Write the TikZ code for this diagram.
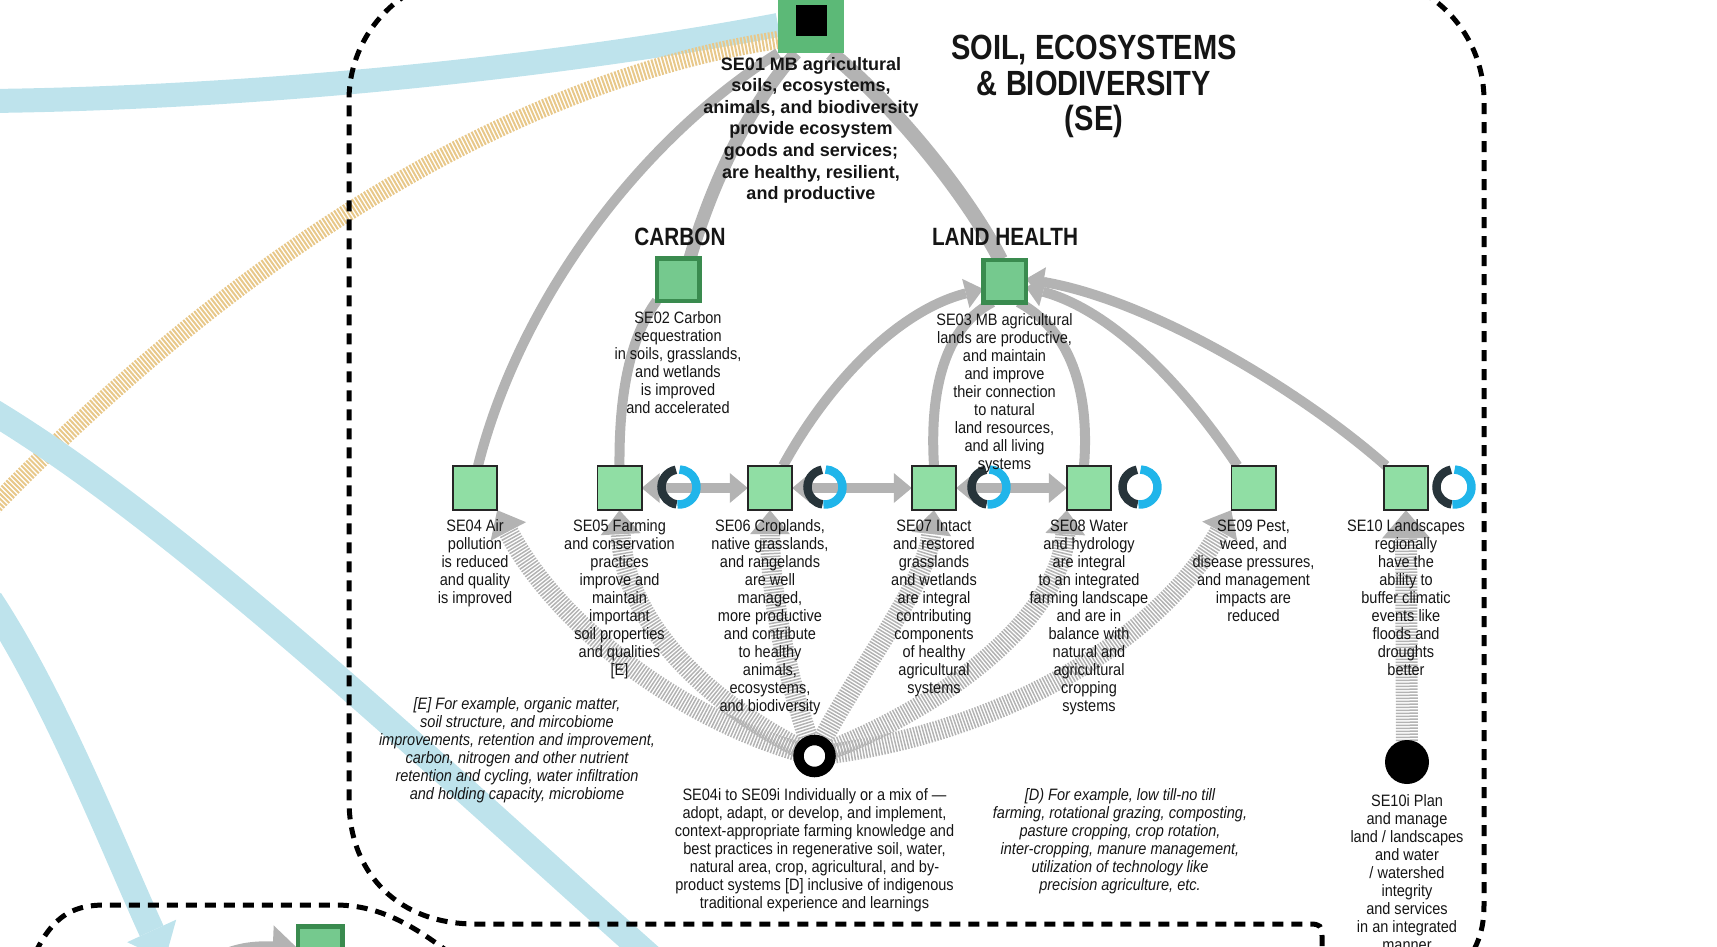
\documentclass[tikz,border=0pt]{standalone}
\usepackage{fontspec}
\setmainfont{Liberation Sans}
\newfontfamily\bodyfont[FakeStretch=0.88]{Liberation Sans}
\newfontfamily\headfont[FakeStretch=0.83]{Liberation Sans}
\usetikzlibrary{arrows.meta}
\pgfdeclarelayer{links}
\pgfsetlayers{links,main}

\definecolor{linkgray}{HTML}{B3B3B3}
\definecolor{skyband}{HTML}{BEE3EC}
\definecolor{ochreband}{HTML}{E8C88A}
\definecolor{rootgreen}{HTML}{5CB977}
\definecolor{midgreen}{HTML}{75C98E}
\definecolor{darkgreen}{HTML}{3A8B4F}
\definecolor{leafgreen}{HTML}{90DEA4}
\definecolor{ringdark}{HTML}{27343A}
\definecolor{ringblue}{HTML}{20B5EA}
\definecolor{ink}{HTML}{151515}

\tikzset{
  every node/.style={inner sep=0pt, outer sep=0pt},
  leafsq/.style={rectangle, draw=black!85, line width=1.6pt, fill=leafgreen, minimum size=44.4pt},
  hubsq/.style={rectangle, draw=darkgreen, line width=4.5pt, fill=midgreen, minimum size=42.5pt},
  rootsq/.style={rectangle, fill=rootgreen, minimum size=66pt},
  link/.style={draw=linkgray, line width=10pt},
  hatched/.style={draw=linkgray, line width=20pt, dash pattern=on 1.5pt off 1.5pt},
  zone/.style={draw=black, line width=5pt, dash pattern=on 11pt off 8pt},
  band/.style={draw=skyband, line width=24pt},
  ochrehatch/.style={draw=ochreband, line width=18pt, dash pattern=on 2pt off 1.5pt},
  linkhead/.tip={Triangle[length=18pt, width=30pt, line width=0pt]},
  hatchhead/.tip={Triangle[length=24pt, width=40pt, line width=0pt]},
  bighead/.tip={Triangle[length=28pt, width=48pt, line width=0pt]},
  skyhead/.tip={Triangle[length=32pt, width=54pt, line width=0pt]},
  txt/.style={font=\bodyfont\fontsize{16.5pt}{18pt}\selectfont, align=center, anchor=north, text=ink},
  note/.style={font=\bodyfont\itshape\fontsize{16.5pt}{18pt}\selectfont, align=center, anchor=north, text=ink},
  roottxt/.style={font=\bfseries\fontsize{18pt}{21.6pt}\selectfont, align=center, anchor=north, text=ink},
  headtxt/.style={font=\headfont\bfseries\fontsize{25pt}{27pt}\selectfont, text=ink},
  titletxt/.style={font=\headfont\bfseries\fontsize{35pt}{35.5pt}\selectfont, align=center, anchor=north, text=ink},
}

\begin{document}
\begin{tikzpicture}[x=1pt, y=-1pt]
\useasboundingbox (0,0) rectangle (1717,946);

% outcome squares
\node[rootsq] (se01) at (811,20) {};
\node[fill=black, minimum size=31pt] (se01core) at (se01.center) {};
\node[hubsq] (se02) at (678,279.5) {};
\node[hubsq] (se03) at (1004.5,281) {};
\node[leafsq] (se04) at (475,488) {};
\node[leafsq] (se05) at (619.5,488) {};
\node[leafsq] (se06) at (770,488) {};
\node[leafsq] (se07) at (934,488) {};
\node[leafsq] (se08) at (1089,488) {};
\node[leafsq] (se09) at (1253.5,488) {};
\node[leafsq] (se10) at (1406,488) {};
\node[hubsq, minimum size=44.5pt] (edgesq) at (320,948.5) {};

% practice nodes
\node[circle, draw=black, line width=10.5pt, fill=white, minimum size=32pt] (hub) at (814.5,756) {};
\node[circle, fill=black, minimum size=44pt] (se10i) at (1407,762) {};

% cycle rings
\foreach \n/\x in {r05/679, r06/825, r07/989, r08/1140, r10/1454} {
  \node[circle, minimum size=35pt] (\n) at (\x,487) {};
  \draw[draw=ringdark, line width=8.5pt] (\n.center) ++(100:17.5pt) arc[start angle=100, end angle=262, radius=17.5pt];
  \draw[draw=ringblue, line width=8.5pt] (\n.center) ++(-95:17.5pt) arc[start angle=-95, end angle=88, radius=17.5pt];
}

% loose ends of the incoming bands
\coordinate (skyA) at (-10,101);
\coordinate (skyB) at (-10,410);
\coordinate (skyBend) at (665,970);
\coordinate (skyC) at (-10,600);
\coordinate (skyCend) at (165,960);
\coordinate (ochreA) at (-10,510);
\coordinate (grayin) at (190,990);

\begin{pgfonlayer}{links}
  % wide bands from neighbouring sections
  \draw[band] (skyA) .. controls (250,98) and (550,68) .. ([yshift=-5pt]se01.west);
  \draw[ochrehatch] (ochreA) .. controls (250,240) and (528,77.5) .. ([yshift=-20pt]se01.west);
  \draw[band, line width=26pt] (skyB) .. controls (190,530) and (460,789) .. (skyBend);
  \draw[band, line width=26pt, -skyhead] (skyC) .. controls (56,700) and (115,851) .. (skyCend);

  % dashed section outlines
  \draw[zone] (1322,965) -- (1322,936) .. controls (1322,926) and (1320,924) .. (1310,924)
      -- (475,924) .. controls (400,924) and (349,875) .. (349,800) -- (349,100)
      arc[start angle=180, end angle=120, radius=125pt];
  \draw[zone] (1465,965) .. controls (1478,945) and (1484,930) .. (1484,905) -- (1484,100)
      arc[start angle=0, end angle=60, radius=125pt];
  \draw[zone] (28,970) .. controls (48,918) and (70,905) .. (105,905) -- (335,905)
      .. controls (380,905) and (415,925) .. (465,965);

  % arrow into the neighbouring section
  \draw[link, line width=12pt, -{Triangle[length=25pt, width=44pt, line width=0pt]}]
      (grayin) .. controls (205,955) and (240,946) .. (edgesq.west);

  % links up to SE01
  \draw[link] ([xshift=3pt]se04.north) .. controls (520,300) and (640,140) .. (se01.south west);
  \draw[link, line width=13pt] ([xshift=12pt]se02.north) .. controls (710,190) and (745,110) .. ([xshift=-15pt]se01.south);
  \draw[link, line width=15pt] ([xshift=-4pt]se03.north) .. controls (970,200) and (900,110) .. ([xshift=20pt]se01.south);

  % links up to SE02 and SE03
  \draw[link] (se05.north) .. controls (619,400) and (628,340) .. (se02.south west);
  \draw[link, -linkhead] ([xshift=13pt]se06.north) .. controls (830,380) and (900,310) .. ([yshift=-8pt]se03.west);
  \draw[link] (se07.north) .. controls (930,400) and (940,330) .. ([xshift=-12pt]se03.south);
  \draw[link] ([xshift=-5pt]se08.north) .. controls (1090,390) and (1070,330) .. ([xshift=14pt]se03.south);
  \draw[link, -linkhead] ([xshift=-16pt]se09.north) .. controls (1180,380) and (1110,310) .. ([yshift=-6pt]se03.east);
  \draw[link, -linkhead] ([xshift=-20pt]se10.north) .. controls (1300,390) and (1150,300) .. ([yshift=2pt]se03.east);

  % two-way links along the row
  \draw[link, linkhead-linkhead] (se05.east) -- (se06.west);
  \draw[link, linkhead-linkhead] (se06.east) -- (se07.west);
  \draw[link, linkhead-linkhead] (se07.east) -- (se08.west);

  % practices feeding the outcomes
  \draw[hatched, -hatchhead] (hub.center) .. controls (690,725) and (560,630) .. (se04.south east);
  \draw[hatched, -hatchhead] (hub.center) .. controls (700,700) and (625,620) .. (se05.south);
  \draw[hatched, -hatchhead] (hub.center) .. controls (790,690) and (770,600) .. (se06.south);
  \draw[hatched, -hatchhead] (hub.center) .. controls (850,680) and (925,590) .. (se07.south);
  \draw[hatched, -hatchhead] (hub.center) .. controls (940,710) and (1060,620) .. (se08.south west);
  \draw[hatched, -hatchhead] (hub.center) .. controls (1000,735) and (1160,640) .. (se09.south west);
  \draw[hatched, line width=22pt, -bighead] (se10i.center) -- (se10.south);
\end{pgfonlayer}

% headings
\node[titletxt] (title) at (1094,35.5) {SOIL, ECOSYSTEMS\\\& BIODIVERSITY\\(SE)};
\node[headtxt] (carbonhd) at (680,237) {CARBON};
\node[headtxt] (landhd) at (1005,237) {LAND HEALTH};

% labels
\node[roottxt] (t01) at (811,57) {SE01 MB agricultural\\soils, ecosystems,\\animals, and biodiversity\\provide ecosystem\\goods and services;\\are healthy, resilient,\\and productive};
\node[txt] (t02) at (678,312) {SE02 Carbon\\sequestration\\in soils, grasslands,\\and wetlands\\is improved\\and accelerated};
\node[txt] (t03) at (1004.5,314) {SE03 MB agricultural\\lands are productive,\\and maintain\\and improve\\their connection\\to natural\\land resources,\\and all living\\systems};
\node[txt] (t04) at (475,520) {SE04 Air\\pollution\\is reduced\\and quality\\is improved};
\node[txt] (t05) at (619.5,520) {SE05 Farming\\and conservation\\practices\\improve and\\maintain\\important\\soil properties\\and qualities\\{[E]}};
\node[txt] (t06) at (770,520) {SE06 Croplands,\\native grasslands,\\and rangelands\\are well\\managed,\\more productive\\and contribute\\to healthy\\animals,\\ecosystems,\\and biodiversity};
\node[txt] (t07) at (934,520) {SE07 Intact\\and restored\\grasslands\\and wetlands\\are integral\\contributing\\components\\of healthy\\agricultural\\systems};
\node[txt] (t08) at (1089,520) {SE08 Water\\and hydrology\\are integral\\to an integrated\\farming landscape\\and are in\\balance with\\natural and\\agricultural\\cropping\\systems};
\node[txt] (t09) at (1253.5,520) {SE09 Pest,\\weed, and\\disease pressures,\\and management\\impacts are\\reduced};
\node[txt] (t10) at (1406,520) {SE10 Landscapes\\regionally\\have the\\ability to\\buffer climatic\\events like\\floods and\\droughts\\better};
\node[note] (noteE) at (517,698) {{[E]} For example, organic matter,\\soil structure, and mircobiome\\improvements, retention and improvement,\\carbon, nitrogen and other nutrient\\retention and cycling, water infiltration\\and holding capacity, microbiome};
\node[txt] (thub) at (814.5,789) {SE04i to SE09i Individually or a mix of —\\adopt, adapt, or develop, and implement,\\context-appropriate farming knowledge and\\best practices in regenerative soil, water,\\natural area, crop, agricultural, and by-\\product systems {[D]} inclusive of indigenous\\traditional experience and learnings};
\node[note] (noteD) at (1120,789) {{[D)} For example, low till-no till\\farming, rotational grazing, composting,\\pasture cropping, crop rotation,\\inter-cropping, manure management,\\utilization of technology like\\precision agriculture, etc.};
\node[txt] (t10i) at (1407,795) {SE10i Plan\\and manage\\land / landscapes\\and water\\/ watershed\\integrity\\and services\\in an integrated\\manner};
\end{tikzpicture}
\end{document}
